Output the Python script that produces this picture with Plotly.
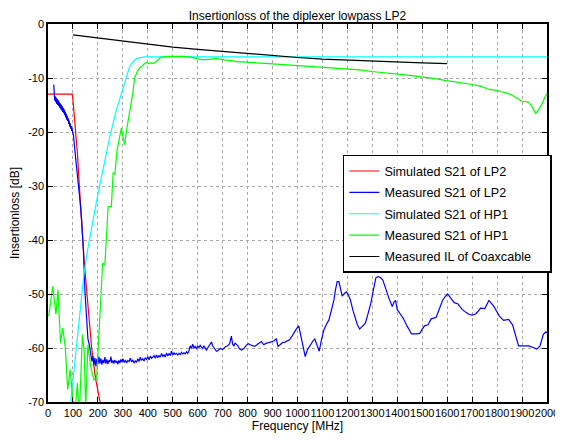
import plotly.graph_objects as go

# ---------------- data ----------------
sim_lp2_f = [0, 97, 100, 105, 110, 118, 125, 135, 145, 160, 175, 190, 208, 225]
sim_lp2_db = [-13.0, -13.0, -14.0, -16.5, -19.5, -24.0, -29.5, -36.5, -44.0, -52.0, -60.0, -65.5, -70.0, -74.0]

meas_lp2_f = [23, 24, 25, 27, 29, 31, 33, 35, 37, 39, 41, 43, 45, 47, 49, 51, 53, 55, 57, 59, 61, 63, 65,
              67, 69, 71, 73, 75, 77, 79, 81, 83, 85, 87, 89, 91, 93, 95, 97, 99, 102, 109, 116, 122,
              129, 135, 142, 148, 155, 160, 166, 171,
              176, 180, 184, 188, 192, 196, 200, 204, 208, 212, 216, 220, 224, 228, 232, 236, 240, 244,
              248, 252, 256, 260, 264, 268, 272, 276, 280, 284, 288, 292, 296, 300, 305, 310, 315, 320,
              325, 330, 335, 340, 345, 350, 355, 360, 365, 370, 375, 380, 385, 390, 395, 400, 405, 410,
              415, 420, 425, 430, 435, 440, 445, 450, 455, 460, 465, 470, 475, 480, 485, 490, 495, 500,
              505, 510, 515, 520, 525, 530, 535, 540, 545, 550, 555, 560, 565, 570, 575, 580, 585, 590,
              595, 600, 605, 610, 615, 620, 625, 630, 635, 640, 645, 650, 655, 660, 665, 670, 675, 680,
              690, 700, 710, 720, 728, 735, 740, 745, 750, 760, 768, 776, 785, 795, 803, 815, 829, 840,
              848, 855, 865, 875, 885, 895, 905, 915, 922, 930, 940, 950, 960, 968, 978, 988, 995, 1005,
              1012, 1020, 1031, 1040, 1047, 1055, 1062, 1069, 1078, 1087, 1096, 1106, 1116, 1126, 1136,
              1146, 1152, 1159, 1166, 1172, 1179, 1188, 1196, 1204, 1212, 1222, 1232, 1240, 1249, 1260,
              1272, 1283, 1294, 1304, 1314, 1322, 1331, 1342, 1350, 1357, 1368, 1380, 1387, 1393, 1400,
              1412, 1424, 1440, 1457, 1475, 1490, 1500, 1509, 1523, 1536, 1556, 1570, 1582, 1592, 1602,
              1615, 1628, 1642, 1661, 1675, 1688, 1700, 1714, 1724, 1734, 1751, 1767, 1778, 1787, 1798,
              1809, 1826, 1846, 1862, 1872, 1879, 1886, 1905, 1926, 1945, 1959, 1972, 1985, 1995, 2000]
meas_lp2_db = [-11.2, -14.0, -13.2, -14.2, -13.4, -14.5, -13.6, -14.8, -13.9, -15.0, -14.1, -15.2, -14.4,
               -15.5, -14.7, -15.8, -14.9, -16.0, -15.2, -16.3, -15.5, -16.5, -15.8, -16.9, -16.2, -17.3,
               -16.6, -17.7, -17.0, -18.0, -17.4, -18.5, -17.9, -19.0, -18.4, -19.4, -18.9, -19.8, -19.3,
               -20.2, -20.5, -24.0, -27.0, -30.0, -33.1, -36.5, -42.0, -49.5, -55.5, -58.3, -59.5, -61.5,
               -62.5, -61.5, -63.2, -61.8, -63.4, -62.0, -63.0, -61.6, -62.9, -61.9, -63.1, -62.2, -62.8,
               -61.7, -62.9, -62.1, -63.0, -62.3, -62.6, -61.6, -62.8, -62.3, -62.9, -62.2, -62.7, -62.4,
               -63.0, -62.3, -62.8, -62.1, -62.6, -62.0, -62.7, -62.2, -62.8, -62.3, -62.5, -61.9, -62.6,
               -62.2, -62.8, -62.4, -62.6, -62.0, -62.5, -61.7, -62.3, -62.0, -62.4, -61.8, -62.1, -61.6,
               -62.2, -61.5, -61.9, -61.7, -61.4, -61.9, -61.3, -61.8, -61.4, -61.7, -61.0, -61.6, -61.2,
               -61.7, -60.9, -61.5, -61.0, -61.4, -60.6, -61.3, -60.9, -61.2, -61.0, -61.3, -61.0, -61.2,
               -60.8, -61.1, -60.9, -61.1, -60.7, -61.0, -60.5, -59.6, -60.1, -59.3, -60.0, -59.7, -60.2,
               -59.6, -59.9, -59.5, -59.8, -60.1, -59.6, -59.9, -60.4, -60.0, -59.6, -59.3, -58.9, -59.6,
               -59.9, -60.3, -60.6, -60.5, -60.1, -60.3, -59.8, -59.6, -59.2, -57.8, -59.3, -59.6, -59.1,
               -59.5, -60.2, -60.4, -60.1, -59.5, -59.2, -59.5, -59.7, -59.3, -59.0, -58.8, -59.4, -59.1,
               -59.0, -58.8, -58.7, -58.3, -59.7, -59.4, -59.0, -58.9, -58.7, -58.5, -57.8, -56.9, -56.5,
               -55.9, -57.5, -59.0, -61.6, -60.3, -59.7, -59.2, -58.7, -58.3, -59.5, -60.6, -58.5, -56.6,
               -55.6, -54.8, -53.0, -51.1, -49.3, -47.7, -47.7, -49.0, -50.4, -49.9, -49.6, -50.2, -51.1,
               -53.0, -54.8, -55.7, -56.5, -56.0, -55.4, -53.6, -51.7, -49.3, -47.0, -46.8, -46.9, -47.4,
               -48.6, -49.8, -51.0, -52.3, -51.5, -51.2, -52.9, -53.7, -54.5, -56.0, -57.4, -57.4, -57.3,
               -56.5, -55.9, -55.7, -54.6, -54.3, -52.5, -51.1, -50.5, -50.0, -50.8, -51.6, -51.8, -52.9,
               -53.4, -53.8, -53.9, -53.7, -53.2, -52.6, -52.7, -51.2, -51.8, -52.3, -53.2, -54.1, -54.9,
               -54.7, -55.7, -57.3, -58.5, -59.6, -59.6, -59.6, -59.9, -60.2, -59.6, -57.5, -57.0, -57.2]

sim_hp1_f = [80, 92, 110, 130, 145, 160, 180, 200, 225, 248, 275, 300, 310, 327, 340, 353, 370, 390, 2000]
sim_hp1_db = [-74.0, -69.6, -61.5, -52.5, -46.0, -41.5, -36.2, -31.5, -26.0, -20.8, -15.8, -12.2, -10.5,
              -7.9, -7.0, -6.5, -6.2, -6.1, -6.1]

meas_hp1_f = [3, 19, 32, 40, 50, 59, 69, 79, 89, 98, 106, 118, 125, 138, 145, 151, 160, 171, 184, 195,
              201, 211, 219, 228, 237, 241, 254, 261, 268, 277, 294, 307, 314, 327, 340, 347, 360, 367,
              373, 385, 393, 403, 413, 423, 433, 446, 459, 480, 499, 525, 545, 565, 582, 598, 615, 631,
              650, 671, 690, 710, 735, 763, 785, 803, 835, 869, 900, 940, 1001, 1050, 1100, 1150, 1199,
              1250, 1298, 1350, 1397, 1450, 1496, 1550, 1596, 1650, 1701, 1740, 1760, 1780, 1800, 1820,
              1840, 1860, 1880, 1899, 1915, 1926, 1940, 1955, 1967, 1979, 1990, 2000]
meas_hp1_db = [-54.1, -48.6, -53.8, -49.2, -59.1, -56.3, -59.7, -67.7, -64.0, -69.0, -73.0, -66.5, -73.0,
               -57.5, -60.6, -71.0, -59.4, -63.4, -65.9, -65.6, -60.3, -49.8, -44.3, -44.6, -36.2, -33.8,
               -33.8, -27.6, -27.8, -23.3, -19.3, -22.4, -19.9, -16.5, -12.8, -10.0, -8.6, -8.2, -7.9,
               -7.4, -7.1, -7.3, -7.2, -7.3, -7.0, -6.4, -6.1, -6.0, -6.0, -5.9, -6.0, -6.1, -6.3, -6.5,
               -6.6, -6.6, -6.5, -6.4, -6.5, -6.7, -6.8, -7.0, -7.0, -7.1, -7.2, -7.3, -7.4, -7.5, -7.7,
               -7.9, -8.1, -8.2, -8.3, -8.5, -8.8, -9.0, -9.3, -9.5, -9.8, -10.1, -10.5, -10.8, -11.2,
               -11.6, -12.0, -12.2, -12.3, -12.6, -12.8, -13.2, -13.8, -14.3, -14.4, -14.5, -15.3, -16.6,
               -15.8, -14.9, -13.7, -12.9]

coax_f = [100, 200, 300, 400, 500, 600, 700, 800, 900, 1000, 1100, 1200, 1300, 1400, 1500, 1600]
coax_db = [-2.0, -2.6, -3.2, -3.8, -4.3, -4.7, -5.1, -5.5, -5.9, -6.2, -6.5, -6.7, -6.9, -7.05, -7.2, -7.35]

series_names = ["Simulated S21 of LP2", "Measured S21 of LP2", "Simulated S21 of HP1",
                "Measured S21 of HP1", "Measured IL of Coaxcable"]
x_ticks = list(range(0, 2001, 100))
y_ticks = [0, -10, -20, -30, -40, -50, -60, -70]

# ---------------- figure ----------------
FONT = "Liberation Sans, Arial, sans-serif"
PAD = "\u00a0" * 4  # blank room at the right end of the legend box, as in the reference
fig = go.Figure()
series = [
    (sim_lp2_f, sim_lp2_db, "#ff0000"),
    (meas_lp2_f, meas_lp2_db, "#0000ff"),
    (sim_hp1_f, sim_hp1_db, "#00ffff"),
    (meas_hp1_f, meas_hp1_db, "#00ff00"),
    (coax_f, coax_db, "#000000"),
]
for i, (xs, ys, col) in enumerate(series):
    fig.add_trace(go.Scatter(x=xs, y=ys, mode="lines", name=series_names[i] + PAD,
                             legendgroup=f"g{i}",
                             line=dict(color=col, width=1.2)))

axis_common = dict(
    showline=True, linecolor="black", linewidth=1.5, mirror="ticks",
    ticks="inside", ticklen=5, tickcolor="black", tickwidth=1,
    showgrid=True, gridcolor="#a8a8a8", griddash="dot", gridwidth=1,
    zeroline=False, automargin=False,
    tickfont=dict(family=FONT, size=11, color="black"),
)
fig.update_xaxes(range=[0, 2000], tickvals=x_ticks, ticktext=[str(v) for v in x_ticks],
                 tickangle=0,
                 title=dict(text="Frequency [MHz]", font=dict(family=FONT, size=12, color="black"),
                            standoff=4),
                 **axis_common)
fig.update_yaxes(range=[-70, 0], tickvals=y_ticks, ticktext=[str(v) for v in y_ticks],
                 title=dict(text="Insertionloss [dB]", font=dict(family=FONT, size=12, color="black"),
                            standoff=6),
                 **axis_common)

# The page body adds an 8 px offset; size the figure so the plot area lands where it should.
fig.update_layout(
    width=555, height=433,
    margin=dict(l=40, r=11, t=16, b=39),
    paper_bgcolor="white", plot_bgcolor="white",
    font=dict(family=FONT, size=12, color="black"),
    title=dict(text="Insertionloss of the diplexer lowpass LP2", x=0.5, xref="paper",
               y=1 - 7.5 / 433, yref="container", yanchor="middle",
               font=dict(family=FONT, size=12, color="black")),
    showlegend=True,
    legend=dict(x=0.591, y=0.654, xanchor="left", yanchor="top",
                bgcolor="white", bordercolor="black", borderwidth=1.5,
                font=dict(family=FONT, size=12.6, color="black"),
                itemwidth=30, tracegroupgap=2, traceorder="grouped"),
)

fig.write_html("out.html")
